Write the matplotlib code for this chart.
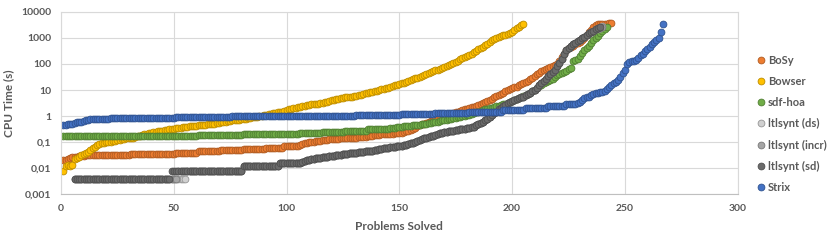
import matplotlib.pyplot as plt
from matplotlib.ticker import FixedLocator, FixedFormatter

# CPU time (s) for each solved problem, sorted (cactus plot)
bosy_t = ([0.02, 0.021, 0.022, 0.025, 0.026, 0.027, 0.028, 0.029, 0.03, 0.03]
          + [0.031] * 20 + [0.036] * 20 + [0.04] * 10 + [0.045] * 10
          + [0.05] * 10 + [0.056] * 10 + [0.06] * 8 + [0.07] * 7
          + [0.08, 0.085, 0.09, 0.095, 0.1, 0.1, 0.105, 0.11, 0.11, 0.115, 0.12, 0.12, 0.125, 0.13, 0.13]
          + [0.13, 0.135, 0.135, 0.14, 0.14, 0.14, 0.145, 0.145, 0.15, 0.15, 0.15, 0.155, 0.16, 0.16, 0.165, 0.17, 0.175]
          + [0.18, 0.185, 0.19, 0.195, 0.2, 0.2, 0.205, 0.21, 0.21, 0.215, 0.22, 0.22, 0.225, 0.23, 0.24]
          + [0.26, 0.28, 0.3, 0.33, 0.36, 0.4, 0.44, 0.48, 0.52, 0.56, 0.6, 0.65, 0.7, 0.76, 0.82]
          + [0.9, 0.95, 1.0, 1.05, 1.1, 1.2, 1.3, 1.4, 1.5, 1.6, 1.7, 1.8, 1.9, 2.0, 2.15, 2.3]
          + [2.5, 2.7, 2.9, 3.1, 3.4, 3.8, 4.2, 4.7, 5.2, 5.8, 6.5, 7.2, 8.0, 8.8, 9.6]
          + [10.5, 11.5, 12.5, 13.5, 15, 17, 19, 21, 23, 26, 30, 35, 40, 46]
          + [52, 58, 64, 70, 75, 80, 90, 100, 130, 180, 250, 340]
          + [400, 450, 500, 560, 620, 700, 800, 1000, 1300, 1700, 2000]
          + [2500, 3000, 3300, 3500, 3500, 3500, 3500, 3600, 3600])

bowser_t = ([0.008, 0.012, 0.013, 0.012, 0.013]
            + [0.022, 0.025, 0.028, 0.032, 0.035, 0.038, 0.042, 0.05, 0.058, 0.065, 0.075, 0.085]
            + [0.09, 0.095, 0.1, 0.1, 0.105, 0.11, 0.115, 0.12]
            + [0.125, 0.13, 0.135, 0.14, 0.14, 0.145, 0.15, 0.16, 0.17, 0.18, 0.19, 0.2, 0.21, 0.22, 0.23]
            + [0.24, 0.25, 0.26, 0.27, 0.28, 0.29, 0.3, 0.31, 0.32, 0.33, 0.34, 0.35, 0.36, 0.37, 0.38, 0.39, 0.4]
            + [0.41, 0.42, 0.43, 0.44, 0.45, 0.46, 0.47, 0.48, 0.49, 0.5, 0.52, 0.54, 0.56, 0.58, 0.6]
            + [0.62, 0.64, 0.66, 0.68, 0.7, 0.72, 0.74, 0.76, 0.78, 0.8, 0.83, 0.86, 0.89, 0.92, 0.96]
            + [1.0, 1.05, 1.1, 1.15, 1.2, 1.25, 1.3, 1.35, 1.4, 1.45, 1.5, 1.6, 1.7]
            + [1.8, 1.9, 2.0, 2.1, 2.2, 2.3, 2.4, 2.5, 2.6, 2.7, 2.8, 2.85, 2.9, 3.0, 3.1]
            + [3.2, 3.4, 3.6, 3.8, 4.0, 4.2, 4.4, 4.6, 4.8, 5.0, 5.2, 5.4, 5.5, 5.6, 5.8]
            + [6.0, 6.3, 6.6, 7.0, 7.4, 7.8, 8.2, 8.5, 9.0, 9.5, 10, 10.5, 11, 11.5, 12]
            + [13, 14, 15, 16, 17, 18, 19, 20, 22, 24, 26, 28, 30, 32, 34]
            + [37, 40, 44, 48, 52, 56, 60, 66, 72, 78, 84, 90, 100, 110, 120]
            + [135, 150, 165, 180, 200, 220, 250, 280, 320, 360, 400, 460, 520, 600, 700]
            + [800, 900, 1000, 1100, 1200, 1270, 1300, 1350, 1500, 1700, 2000, 2400, 2700, 3000, 3300])

sdf_t = ([0.17] * 20 + [0.175] * 20 + [0.18] * 20 + [0.19] * 20
         + [0.2] * 15 + [0.21] * 10 + [0.22] * 10
         + [0.24] * 10 + [0.27] * 10 + [0.31] * 10
         + [0.34, 0.35, 0.36, 0.37, 0.38, 0.39, 0.4, 0.41, 0.42, 0.43, 0.44, 0.45, 0.46, 0.47, 0.48, 0.5, 0.52, 0.54, 0.56, 0.58, 0.6]
         + [0.62, 0.65, 0.68, 0.7, 0.72, 0.75, 0.78, 0.82, 0.86, 0.9, 0.95, 1.0, 1.05, 1.1, 1.15, 1.22, 1.3]
         + [1.4, 1.5, 1.6, 1.7, 1.8, 1.9, 2.0, 2.1, 2.2, 2.35, 2.5, 2.65, 2.8, 2.95, 3.1]
         + [3.4, 3.7, 4.0, 4.4, 4.8, 5.3, 5.8, 6.4, 7.0, 8.0, 9.0, 10]
         + [12, 14, 16, 18, 20, 22, 24, 27]
         + [32, 36, 40, 45, 50, 55, 62, 68]
         + [130, 145, 160, 200, 260, 330, 400, 500, 620]
         + [800, 1000, 1200, 1500, 1800, 2200, 2700])

# ltlsynt: the first 5 problems take 0 s and are not shown on the log axis
ltl_start = 6
ltl_sd_t = ([0.004] * 43 + [0.008] * 32 + [0.012] * 16 + [0.016] * 10
            + [0.018, 0.019, 0.02, 0.021, 0.022, 0.023, 0.024, 0.024, 0.025]
            + [0.026, 0.027, 0.028, 0.029, 0.03, 0.03, 0.031, 0.032, 0.033, 0.034, 0.035,
               0.036, 0.037, 0.038, 0.039, 0.04, 0.041, 0.042, 0.043, 0.044, 0.045, 0.046]
            + [0.048, 0.05, 0.052, 0.054, 0.056, 0.058, 0.06, 0.062, 0.064, 0.066, 0.068, 0.07, 0.072, 0.074, 0.076]
            + [0.08, 0.085, 0.09, 0.095, 0.1, 0.11, 0.12, 0.13, 0.14, 0.15, 0.16, 0.17, 0.18, 0.19, 0.2]
            + [0.22, 0.23, 0.24, 0.25, 0.26, 0.27, 0.28, 0.29, 0.3, 0.31, 0.32, 0.33, 0.34, 0.35, 0.37, 0.39]
            + [0.45, 0.5, 0.56, 0.62, 0.7, 0.8, 0.95, 1.1, 1.3, 1.5, 1.8, 2.1, 2.4, 2.7, 3.1]
            + [3.4, 3.7, 4.0, 4.4, 4.8, 5.2, 5.6, 6.2, 7, 8, 9, 10, 12, 15]
            + [18, 22, 27, 33, 40, 48, 59, 80, 110, 160, 240, 340]
            + [420, 500, 580, 650, 730, 830, 950, 1100]
            + [1300, 1500, 1700, 1900, 2100, 2300, 2500])
ltl_incr_t = [0.004] * 46 + [0.008] * 29 + ltl_sd_t[75:-1] + [2400, 2600]
ltl_ds_t = [0.004] * 50 + [0.008] * 25 + ltl_sd_t[75:-2] + [2200, 2400, 2800]

strix_t = ([0.45, 0.46, 0.48, 0.5]
           + [0.52, 0.55, 0.57, 0.6, 0.62, 0.65, 0.68, 0.7]
           + [0.75] * 5 + [0.8] * 4 + [0.85] * 4
           + [0.88] * 25 + [0.92] * 25 + [0.97] * 25
           + [1.0] * 15 + [1.05] * 15 + [1.1] * 10 + [1.15] * 10
           + [1.2] * 15 + [1.3] * 15 + [1.45] * 15
           + [1.7] * 10 + [2.0] * 10 + [2.4] * 8 + [2.8] * 5
           + [3.2, 3.6, 4.2, 4.8, 5.2, 5.6, 6.2, 7.0, 7.6, 8.0, 8.3, 8.6]
           + [9.5, 11, 13, 15, 18, 21, 25, 32, 44, 60]
           + [100, 115, 125, 135, 145, 170, 210, 240]
           + [300, 380, 450, 560, 700, 830, 950, 1700, 3500])

series = [
    ("BoSy", bosy_t, 1, "#ED7D31", "#AE5A21"),
    ("Bowser", bowser_t, 1, "#FFC000", "#BC8C00"),
    ("sdf-hoa", sdf_t, 1, "#70AD47", "#507E32"),
    ("ltlsynt (ds)", ltl_ds_t, ltl_start, "#D0D0D0", "#959595"),
    ("ltlsynt (incr)", ltl_incr_t, ltl_start, "#A5A5A5", "#787878"),
    ("ltlsynt (sd)", ltl_sd_t, ltl_start, "#6B6B6B", "#4E4E4E"),
    ("Strix", strix_t, 1, "#4472C4", "#2F528F"),
]

y_ticks = [0.001, 0.01, 0.1, 1, 10, 100, 1000, 10000]
y_labels = ["0,001", "0,01", "0,1", "1", "10", "100", "1000", "10000"]
x_ticks = [0, 50, 100, 150, 200, 250, 300]

plt.rcParams['font.family'] = ['Lato', 'DejaVu Sans']
txt = "#595959"

fig = plt.figure(figsize=(8.31, 2.46), dpi=100)
ax = fig.add_axes([0.0734, 0.2098, 0.8143, 0.7426])

for name, t, start, fc, ec in series:
    xs = list(range(start, start + len(t)))
    ax.plot(xs, t, linestyle="none", marker="o", markersize=4.9,
            markerfacecolor=fc, markeredgecolor=ec, markeredgewidth=0.6, label=name)

ax.set_yscale("log")
ax.set_xlim(0, 300)
ax.set_ylim(0.001, 10000)
ax.yaxis.set_major_locator(FixedLocator(y_ticks))
ax.yaxis.set_major_formatter(FixedFormatter(y_labels))
ax.yaxis.set_minor_locator(FixedLocator([]))
ax.set_xticks(x_ticks)
ax.grid(True, color="#D9D9D9", linewidth=0.8)
ax.set_axisbelow(True)
for s in ax.spines.values():
    s.set_color("#D9D9D9")
    s.set_linewidth(0.8)
ax.spines["bottom"].set_color("#BFBFBF")
ax.tick_params(length=0, labelsize=7.5, labelcolor=txt, pad=7)
for lab in ax.get_xticklabels() + ax.get_yticklabels():
    lab.set_fontweight("bold")

ax.set_xlabel("Problems Solved", fontsize=8.5, fontweight="bold", color=txt, labelpad=6)
ax.set_ylabel("CPU Time (s)", fontsize=8.5, fontweight="bold", color=txt, labelpad=5)

leg = ax.legend(loc="upper left", bbox_to_anchor=(0.912, 0.778), bbox_transform=fig.transFigure,
                frameon=False, fontsize=8, handlelength=0.6, handletextpad=0.3,
                labelspacing=0.92, borderaxespad=0, borderpad=0)
for t in leg.get_texts():
    t.set_color(txt)
    t.set_fontweight("bold")

fig.savefig("out.png", dpi=100)
